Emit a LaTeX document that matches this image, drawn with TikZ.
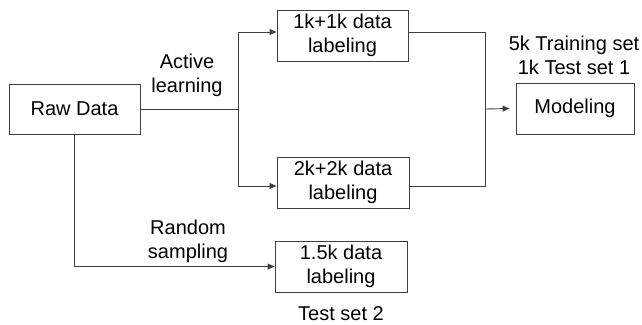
\documentclass[tikz,border=0pt]{standalone}
\usepackage{fontspec}
\setmainfont{Liberation Sans}
\usetikzlibrary{arrows.meta}
\begin{document}
\begin{tikzpicture}[x=1pt,y=-1pt,
  box/.style={draw=black!75,line width=0.9pt,inner sep=0pt,align=center,font=\fontsize{20}{24}\selectfont},
  lbl/.style={inner sep=0pt,align=center,font=\fontsize{20}{24}\selectfont},
  conn/.style={draw=black!75,line width=0.9pt},
  arr/.style={conn,-{Triangle[length=7pt,width=6pt]}}]
\useasboundingbox (0,0) rectangle (642,324);
\node[box,minimum width=131pt,minimum height=50pt] (raw) at (74.5,109) {Raw Data};
\node[box,minimum width=131pt,minimum height=51pt] (b1) at (342.5,35.5) {1k+1k data\\labeling};
\node[box,minimum width=132pt,minimum height=51pt] (b2) at (343,182.5) {2k+2k data\\labeling};
\node[box,minimum width=132pt,minimum height=51pt] (b3) at (341,266.5) {1.5k data\\labeling};
\node[box,minimum width=118pt,minimum height=51pt] (mod) at (575,108.5) {Modeling};
\coordinate (j1) at (238,109);
\coordinate (j2) at (485,109);
\node[lbl] (al) at (187,75) {Active\\learning};
\node[lbl] (rs) at (188,241) {Random\\sampling};
\node[lbl] (ts) at (574,55) {5k Training set\\1k Test set 1};
\node[lbl] (t2) at (341,313.5) {Test set 2};
\draw[conn] (raw.east) -- (j1);
\draw[arr] (j1) |- ([yshift=3.5pt]b1.west);
\draw[arr] (j1) |- ([yshift=-3.5pt]b2.west);
\draw[conn] ([yshift=3.5pt]b1.east) -| (j2);
\draw[conn] ([yshift=-3.5pt]b2.east) -| (j2);
\draw[arr] (j2) -- ([xshift=-6pt]mod.west);
\draw[arr] (raw.south) |- (b3.west);
\end{tikzpicture}
\end{document}
